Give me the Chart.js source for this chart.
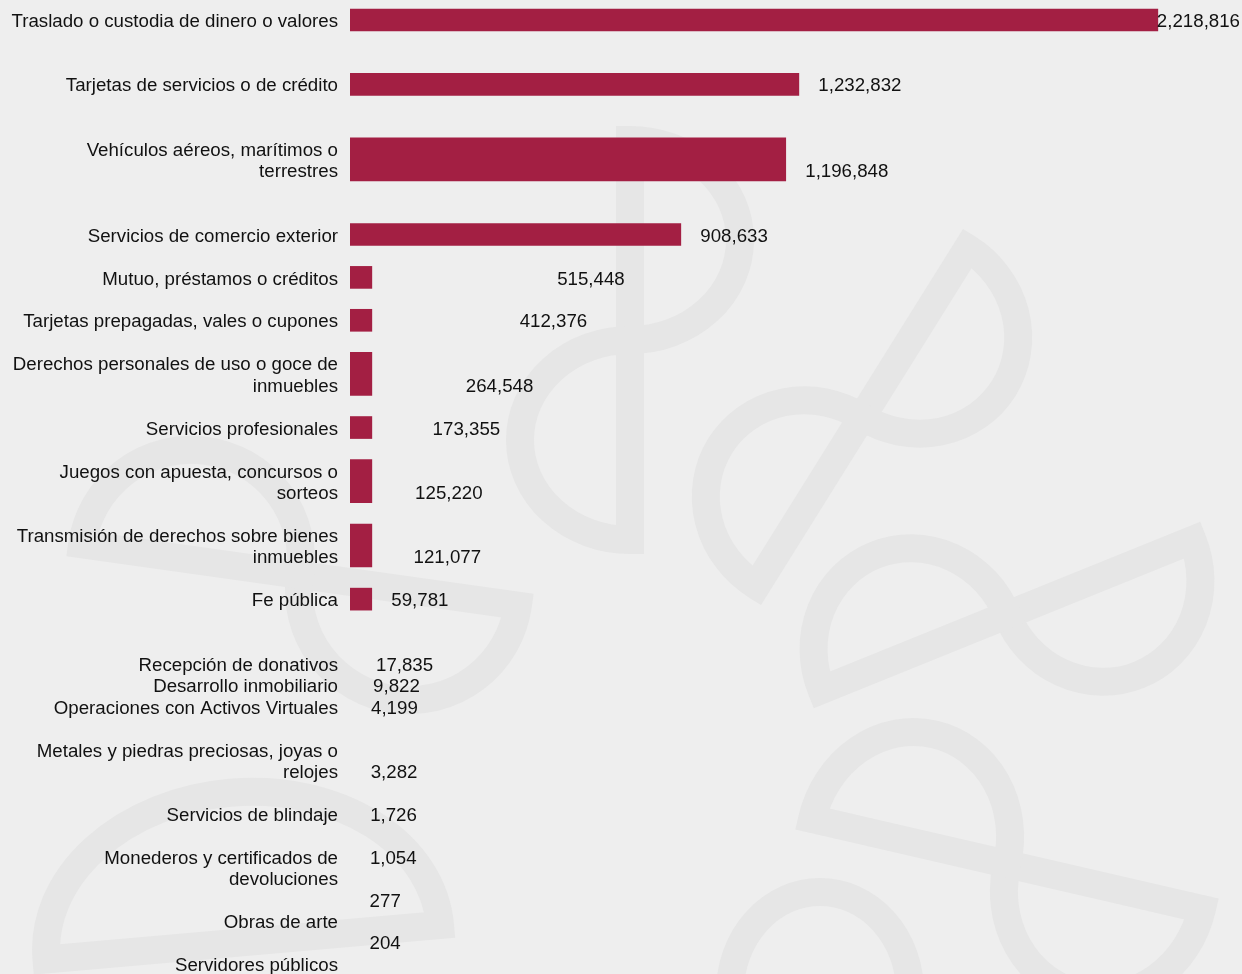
<!DOCTYPE html>
<html>
<head>
<meta charset="utf-8">
<script src="https://cdn.jsdelivr.net/npm/chart.js@4.4.1/dist/chart.umd.min.js"></script>
<style>
  html, body { margin: 0; padding: 0; background: #eeeeee; overflow: hidden; }
  #wrap { position: relative; width: 1242px; height: 974px; }
</style>
</head>
<body>
<div id="wrap"><canvas id="c"></canvas></div>
<script>
// ---- data ----
const categories = [
  'Traslado o custodia de dinero o valores',
  'Tarjetas de servicios o de crédito',
  ['Vehículos aéreos, marítimos o', 'terrestres'],
  'Servicios de comercio exterior',
  'Mutuo, préstamos o créditos',
  'Tarjetas prepagadas, vales o cupones',
  ['Derechos personales de uso o goce de', 'inmuebles'],
  'Servicios profesionales',
  ['Juegos con apuesta, concursos o', 'sorteos'],
  ['Transmisión de derechos sobre bienes', 'inmuebles'],
  'Fe pública',
  'Recepción de donativos',
  'Desarrollo inmobiliario',
  'Operaciones con Activos Virtuales',
  ['Metales y piedras preciosas, joyas o', 'relojes'],
  'Servicios de blindaje',
  ['Monederos y certificados de', 'devoluciones'],
  'Obras de arte',
  'Servidores públicos'
];
const values = [2218816, 1232832, 1196848, 908633, 515448, 412376, 264548, 173355,
                125220, 121077, 59781, 17835, 9822, 4199, 3282, 1726, 1054, 277, 204];
// bar lengths as they appear in the picture (mid rows are drawn as short stubs, smallest rows show no bar)
const barShown = [2218816, 1232832, 1196848, 908633, 60000, 60000, 60000, 60000,
                  60000, 60000, 59781, 0, 0, 0, 0, 0, 0, 0, 0];

// ---- layout (row positions in line units, bar height in rows, value-label row shift) ----
const rowPos   = [0, 3, 6.5, 10, 12, 14, 16.5, 19, 21.5, 24.5, 27, 30, 31, 32, 34.5, 37, 39.5, 42, 44];
const rowSpan  = [1, 1, 2, 1, 1, 1, 2, 1, 2, 2, 1, 1, 1, 1, 1, 1, 1, 1, 1];
const valShift = [0, 0, 0.5, 0, 0, 0, 0.5, 0, 0.5, 0.5, 0, 0, 0, 0, 0.5, 0, -0.5, -1, -1];

const BAR = '#a31f43';
const FONT = "'Liberation Sans', Arial, Helvetica, sans-serif";
const FS = 18.7;

function pts(span) {
  const out = [];
  categories.forEach((c, i) => {
    if (rowSpan[i] === span && barShown[i] > 0) out.push({ x: barShown[i], y: rowPos[i] });
  });
  return out;
}

// watermark: [cx, cy, angleDeg, halfLen, bulge, drawD1, drawD2]
const marks = [
  [862, 417, -58, 199, 105, 1, 1],
  [1007, 615, -22, 200, 105, 1, 1],
  [1007, 864, 13, 200, 110, 1, 1],
  [630, 340, -90, 200, 110, 1, 1],
  [440, 925, -5, 395, 150, 0, 1],
  [300, 575, 8, 220, 110, 1, 1],
  [910, 992, 0, 180, 100, 0, 1]
];
const watermark = {
  id: 'watermark',
  beforeDraw(chart) {
    const ctx = chart.ctx;
    ctx.save();
    ctx.fillStyle = '#eeeeee';
    ctx.fillRect(0, 0, chart.width, chart.height);
    ctx.strokeStyle = '#e6e6e6';
    ctx.lineWidth = 28;
    ctx.lineJoin = 'miter';
    marks.forEach(m => {
      const [cx, cy, ang, L, b, d1, d2] = m;
      const a = ang * Math.PI / 180;
      const ux = Math.cos(a), uy = Math.sin(a);
      if (d1) {
        ctx.beginPath();
        ctx.ellipse(cx + ux * L / 2, cy + uy * L / 2, L / 2, b, a, 0, Math.PI);
        ctx.closePath();
        ctx.stroke();
      }
      if (d2) {
        ctx.beginPath();
        ctx.ellipse(cx - ux * L / 2, cy - uy * L / 2, L / 2, b, a, Math.PI, 2 * Math.PI);
        ctx.closePath();
        ctx.stroke();
      }
    });
    ctx.restore();
  }
};

const valueLabels = {
  id: 'valueLabels',
  afterDatasetsDraw(chart) {
    const ctx = chart.ctx, xs = chart.scales.x, ys = chart.scales.y;
    ctx.save();
    ctx.font = FS + 'px ' + FONT;
    ctx.fillStyle = '#111111';
    ctx.textBaseline = 'middle';
    ctx.textAlign = 'left';
    values.forEach((v, i) => {
      const txt = v.toLocaleString('en-US');
      const w = ctx.measureText(txt).width;
      let x = xs.getPixelForValue(v) + 19.5;
      if (x + w > chart.width - 2) x = chart.width - 2 - w;
      const y = ys.getPixelForValue(rowPos[i] + valShift[i]);
      ctx.fillText(txt, x, y + 2);
    });
    ctx.restore();
  }
};

new Chart(document.getElementById('c'), {
  type: 'bar',
  data: {
    datasets: [
      { data: pts(1), backgroundColor: BAR, barThickness: 22, grouped: false, borderWidth: 0 },
      { data: pts(2), backgroundColor: BAR, barThickness: 43, grouped: false, borderWidth: 0 }
    ]
  },
  options: {
    indexAxis: 'y',
    responsive: true,
    maintainAspectRatio: false,
    animation: false,
    layout: { padding: 0 },
    plugins: { legend: { display: false }, tooltip: { enabled: false }, title: { display: false } },
    scales: {
      x: { type: 'linear', display: false, min: 0, max: 2450000 },
      y: {
        type: 'linear',
        reverse: true,
        min: -0.932,
        max: 44.476,
        offset: false,
        grid: { display: false, drawTicks: false },
        border: { display: false },
        afterBuildTicks: s => { s.ticks = rowPos.map(v => ({ value: v })); },
        afterFit: s => { s.width = 350; s.paddingTop = 0; s.paddingBottom = 0; },
        ticks: {
          autoSkip: false,
          padding: 12,
          labelOffset: 2,
          color: '#111111',
          font: { family: FONT, size: FS, lineHeight: 1.13 },
          callback: (v, i) => categories[i]
        }
      }
    }
  },
  plugins: [watermark, valueLabels]
});
</script>
</body>
</html>
